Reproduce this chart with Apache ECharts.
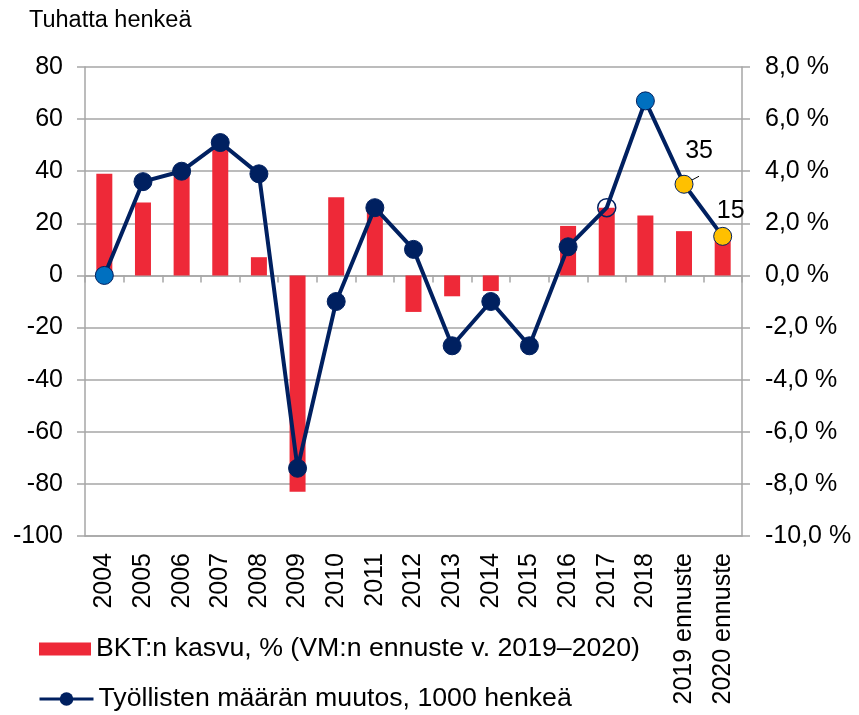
<!DOCTYPE html>
<html>
<head>
<meta charset="utf-8">
<script src="https://cdn.jsdelivr.net/npm/echarts@6/dist/echarts.min.js"></script>
<style>
  html, body { margin: 0; padding: 0; background: #fff; }
  #chart { width: 859px; height: 715px; }
</style>
</head>
<body>
<div id="chart"></div>
<script>
// vuodet (x-akseli)
var years = ['2004', '2005', '2006', '2007', '2008', '2009', '2010', '2011', '2012',
  '2013', '2014', '2015', '2016', '2017', '2018', '2019 ennuste', '2020 ennuste'];
// BKT:n kasvu, % (oikea akseli)
var gdpGrowth = [3.9, 2.8, 4.0, 5.1, 0.7, -8.3, 3.0, 2.6, -1.4, -0.8, -0.6, 0.0, 1.9, 2.6, 2.3, 1.7, 1.5];
// työllisten määrän muutos, 1000 henkeä (vasen akseli)
var employment = [0, 36, 40, 51, 39, -74, -10, 26, 10, -27, -10, -27, 11, 26, 67, 35, 15];

var gdpName = 'BKT:n kasvu, % (VM:n ennuste v. 2019–2020)';
var empName = 'Työllisten määrän muutos, 1000 henkeä';

var navy = '#002060';
var gray = '#A6A6A6';
var font = 'Liberation Sans, Arial, sans-serif';

var chart = echarts.init(document.getElementById('chart'));

function pointStyle(i) {
  // erikoispisteet: 2004 ja 2018 sininen, 2017 ontto, ennusteet keltaiset
  if (i === 0 || i === 14) return { color: '#0070C0', borderColor: navy, borderWidth: 1 };
  if (i === 13) return { color: 'rgba(0,0,0,0)', borderColor: navy, borderWidth: 1.5 };
  if (i >= 15) return { color: '#FFC000', borderColor: navy, borderWidth: 1 };
  return { color: navy, borderColor: navy, borderWidth: 1 };
}

var lineData = employment.map(function (v, i) {
  var item = { value: v, itemStyle: pointStyle(i) };
  if (i >= 15) {
    item.label = { show: true, position: 'top', distance: 3, offset: i === 15 ? [15, -8] : [8, 0] };
  }
  return item;
});

var legendText = { fontFamily: font, fontSize: 26.7, color: '#000', lineHeight: 28 };

chart.setOption({
  backgroundColor: '#fff',
  textStyle: { fontFamily: font },
  title: {
    text: 'Tuhatta henkeä',
    left: 24,
    top: 4,
    textStyle: { fontFamily: font, fontSize: 23.5, fontWeight: 'normal', color: '#000' }
  },
  grid: { left: 85, right: 117, top: 67, bottom: 179 },
  legend: [{
    left: 39,
    top: 635,
    padding: 0,
    itemWidth: 52,
    itemHeight: 13,
    textStyle: legendText,
    data: [{ name: gdpName, icon: 'rect' }]
  }, {
    left: 38,
    top: 685,
    padding: 0,
    itemWidth: 54,
    itemHeight: 17,
    lineStyle: { width: 3 },
    textStyle: legendText,
    data: [{ name: empName }]
  }],
  xAxis: [{
    type: 'category',
    data: years,
    position: 'bottom',
    axisLine: { onZero: false, lineStyle: { color: gray, width: 1.5 } },
    axisTick: { show: false },
    axisLabel: { interval: 0, rotate: 90, fontSize: 25, color: '#000', fontFamily: font, margin: 17 }
  }, {
    type: 'category',
    data: years,
    position: 'top',
    axisLine: { onZero: true, onZeroAxisIndex: 0, lineStyle: { color: gray, width: 1.5 } },
    axisTick: { show: true, interval: 0, inside: true, length: 7, lineStyle: { color: gray, width: 1.5 } },
    axisLabel: { show: false, interval: 0 }
  }],
  yAxis: [{
    type: 'value',
    min: -100,
    max: 80,
    interval: 20,
    position: 'left',
    axisLine: { show: true, lineStyle: { color: gray, width: 1.5 } },
    axisTick: { show: true, length: 8, lineStyle: { color: gray, width: 1.5 } },
    axisLabel: { fontSize: 25, color: '#000', fontFamily: font, margin: 22 },
    splitLine: { show: true, lineStyle: { color: gray, width: 1.5 } }
  }, {
    type: 'value',
    min: -10,
    max: 8,
    interval: 2,
    position: 'right',
    axisLine: { show: true, lineStyle: { color: gray, width: 1.5 } },
    axisTick: { show: true, length: 8, lineStyle: { color: gray, width: 1.5 } },
    axisLabel: {
      fontSize: 25, color: '#000', fontFamily: font, margin: 23,
      formatter: function (v) { return v.toFixed(1).replace('.', ',') + ' %'; }
    },
    splitLine: { show: false }
  }],
  series: [{
    name: gdpName,
    type: 'bar',
    xAxisIndex: 0,
    yAxisIndex: 1,
    barWidth: 16,
    itemStyle: { color: '#EE2938' },
    data: gdpGrowth
  }, {
    name: empName,
    type: 'line',
    xAxisIndex: 0,
    yAxisIndex: 0,
    symbol: 'circle',
    symbolSize: 18,
    lineStyle: { color: navy, width: 4 },
    itemStyle: { color: navy, borderColor: navy },
    label: { fontSize: 25, color: '#000', fontFamily: font },
    labelLine: { show: true, lineStyle: { color: '#000', width: 1 } },
    data: lineData
  }]
});
</script>
</body>
</html>
